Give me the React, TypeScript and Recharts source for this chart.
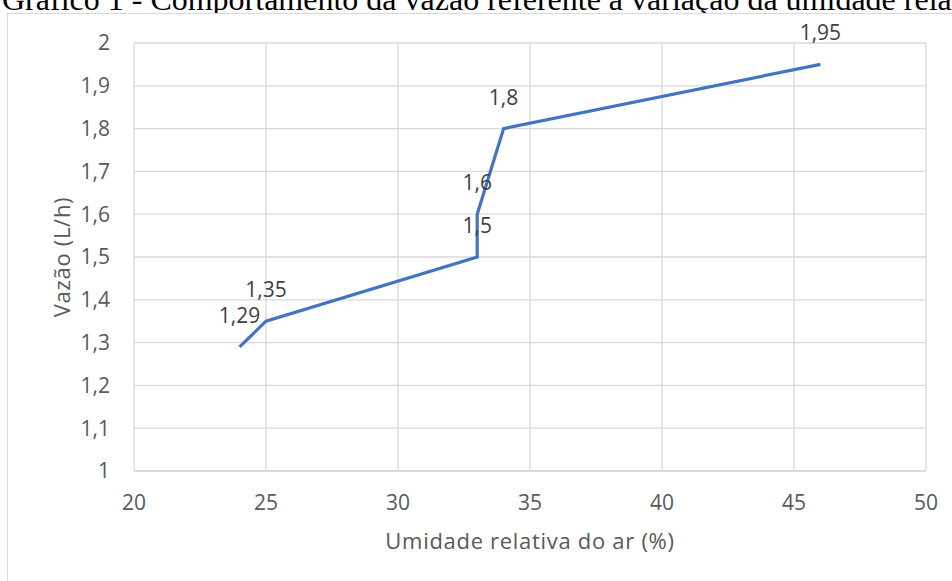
import { LineChart, Line, XAxis, YAxis, CartesianGrid, LabelList, Label } from 'recharts';

// umidade relativa (%) x vazão (L/h)
const umidade = [24, 25, 33, 33, 34, 46];
const vazao = [1.29, 1.35, 1.5, 1.6, 1.8, 1.95];

const xTicks = [20, 25, 30, 35, 40, 45, 50];
const yTicks = [1, 1.1, 1.2, 1.3, 1.4, 1.5, 1.6, 1.7, 1.8, 1.9, 2];

const data = umidade.map((u, i) => ({ umidade: u, vazao: vazao[i] }));

const fmt = (v: number) => String(+Number(v).toFixed(2)).replace('.', ',');

const FONT = '"Open Sans", sans-serif';
const tickStyle = { fill: '#595959', fontSize: 21, fontFamily: FONT };

export default function App() {
  return (
    <div
      style={{
        position: 'absolute',
        left: 0,
        top: 0,
        width: 952,
        height: 581,
        overflow: 'hidden',
        background: '#fff',
      }}
    >
      {/* título (cortado no topo, como na imagem) */}
      <div
        style={{
          position: 'absolute',
          left: 2,
          top: -17,
          fontFamily: '"Liberation Serif", "Times New Roman", serif',
          fontSize: 32,
          lineHeight: '32px',
          whiteSpace: 'nowrap',
          color: '#000',
        }}
      >
        Gráfico 1 - Comportamento da vazão referente à variação da umidade relativa do ar
      </div>

      {/* moldura do gráfico */}
      <div
        style={{
          position: 'absolute',
          left: 7,
          top: 13,
          width: 1000,
          height: 700,
          border: '1.5px solid #d9d9d9',
          background: '#fff',
        }}
      />

      <div style={{ position: 'absolute', left: 0, top: 0 }}>
        <LineChart
          width={952}
          height={581}
          data={data}
          margin={{ top: 43, right: 26, bottom: 0, left: 0 }}
        >
          <CartesianGrid stroke="#d9d9d9" strokeWidth={1.3} />
          <XAxis
            type="number"
            dataKey="umidade"
            domain={[20, 50]}
            ticks={xTicks}
            height={110}
            tickSize={0}
            tickMargin={24}
            tickLine={false}
            axisLine={{ stroke: '#d9d9d9', strokeWidth: 1.3 }}
            tick={tickStyle}
            interval={0}
          >
            <Label
              value="Umidade relativa do ar (%)"
              position="insideTop"
              offset={62}
              style={{ fill: '#595959', fontSize: 22, fontFamily: FONT, letterSpacing: 0.7 }}
            />
          </XAxis>
          <YAxis
            type="number"
            domain={[1, 2]}
            ticks={yTicks}
            width={134}
            tickSize={0}
            tickMargin={24}
            tickLine={false}
            axisLine={false}
            tick={tickStyle}
            tickFormatter={fmt}
            interval={0}
          >
            <Label
              content={({ viewBox }: any) => {
                const cx = viewBox.x + 61;
                const cy = viewBox.y + viewBox.height / 2;
                return (
                  <text
                    x={cx}
                    y={cy}
                    transform={`rotate(-90, ${cx}, ${cy})`}
                    textAnchor="middle"
                    dominantBaseline="central"
                    fill="#595959"
                    fontSize={22}
                    fontFamily={FONT}
                    letterSpacing={0.7}
                  >
                    Vazão (L/h)
                  </text>
                );
              }}
            />
          </YAxis>
          <Line
            type="linear"
            dataKey="vazao"
            stroke="#4472C4"
            strokeWidth={3.2}
            dot={false}
            activeDot={false}
            isAnimationActive={false}
          >
            <LabelList
              dataKey="vazao"
              position="top"
              offset={24}
              formatter={(v: any) => fmt(v)}
              style={{ fill: '#404040', fontSize: 21, fontFamily: FONT }}
            />
          </Line>
        </LineChart>
      </div>
    </div>
  );
}
